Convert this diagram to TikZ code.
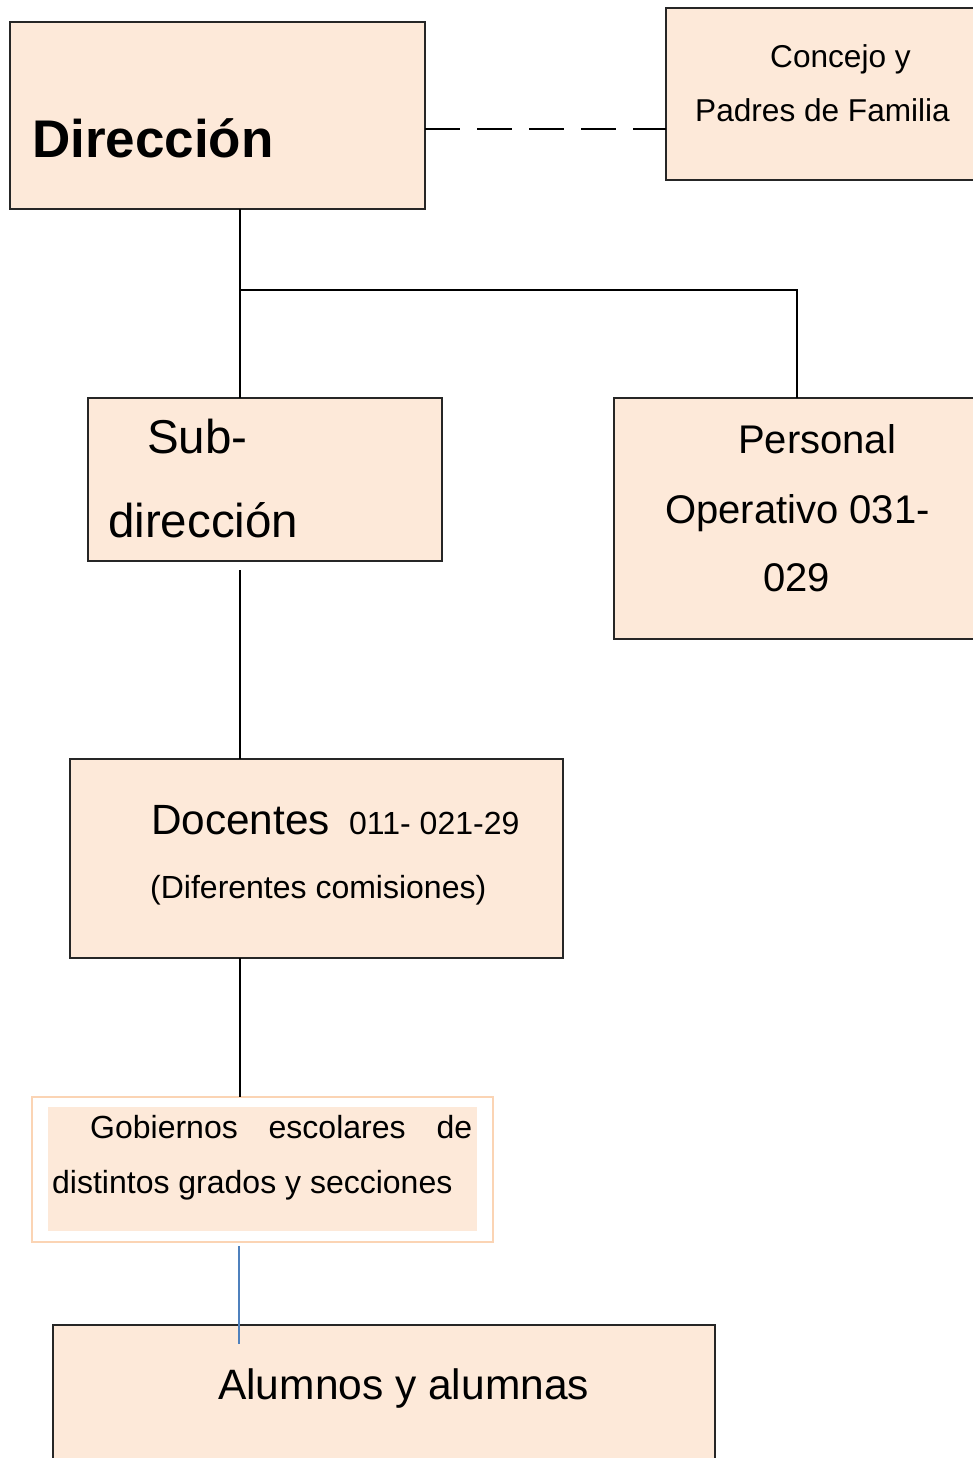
\documentclass[tikz,border=0pt]{standalone}
\usepackage{fontspec}
\setmainfont{Liberation Sans}

\definecolor{boxfill}{HTML}{FDE9D9}
\definecolor{gobline}{HTML}{FBD4B4}
\definecolor{linkblue}{HTML}{4F81BD}

\tikzset{
  orgbox/.style={draw=black!85, fill=boxfill, line width=1.3pt, inner sep=0pt, outer sep=0pt, anchor=north west},
  lbl/.style={inner sep=0pt, anchor=base west},
  link/.style={line width=1.4pt, black},
}

\begin{document}
\begin{tikzpicture}[x=1pt, y=-1pt]
    \useasboundingbox (0,0) rectangle (973,1458);
    \node[orgbox, minimum width=415pt, minimum height=187pt] (dir) at (10,22) {};
    \node[lbl, font=\fontsize{53}{60}\selectfont\bfseries] (dirt) at (32,158) {Dirección};
    \node[orgbox, minimum width=319pt, minimum height=172pt] (con) at (666,8) {};
    \node[lbl, font=\fontsize{31.6}{40}\selectfont] (cont1) at (770,68) {Concejo y};
    \node[lbl, font=\fontsize{31.6}{40}\selectfont] (cont2) at (695,122) {Padres de Familia};
    \node[orgbox, minimum width=354pt, minimum height=163pt] (sub) at (88,398) {};
    \node[lbl, font=\fontsize{47.5}{54}\selectfont] (subt1) at (147,453) {Sub-};
    \node[lbl, font=\fontsize{47.5}{54}\selectfont] (subt2) at (108,537) {dirección};
    \node[orgbox, minimum width=366pt, minimum height=241pt] (per) at (614,398) {};
    \node[lbl, font=\fontsize{40}{48}\selectfont] (pert1) at (738,453) {Personal};
    \node[lbl, font=\fontsize{40}{48}\selectfont] (pert2) at (665,523) {Operativo 031-};
    \node[lbl, font=\fontsize{40}{48}\selectfont] (pert3) at (763,591) {029};
    \node[orgbox, minimum width=493pt, minimum height=199pt] (doc) at (70,759) {};
    \node[lbl, font=\fontsize{42.3}{50}\selectfont] (doct1) at (151,834) {Docentes};
    \node[lbl, font=\fontsize{32}{38}\selectfont] (doct2) at (349,834) {011- 021-29};
    \node[lbl, font=\fontsize{32}{38}\selectfont] (doct3) at (150,898) {(Diferentes comisiones)};
    \node[orgbox, draw=gobline, fill=white, minimum width=461pt, minimum height=145pt] (gob) at (32,1097) {};
    \node[orgbox, draw=none, minimum width=429pt, minimum height=124pt] (gobfill) at (48,1107) {};
    \node[lbl, font=\fontsize{32}{38}\selectfont] (gobt1) at (90,1138) {\makebox[382pt][s]{Gobiernos\hfill escolares\hfill de}};
    \node[lbl, font=\fontsize{32}{38}\selectfont] (gobt2) at (52,1193) {distintos grados y secciones};
    \node[orgbox, minimum width=662pt, minimum height=145pt] (alu) at (53,1325) {};
    \node[lbl, font=\fontsize{42.5}{50}\selectfont] (alut) at (218,1399) {Alumnos y alumnas};
    \coordinate (jA) at (240,290);
    \coordinate (jB) at (239,1300);
    \draw[link, dash pattern=on 35pt off 17pt] ([yshift=-13.5pt]dir.east) -- ([yshift=-13.5pt]dir.east -| con.west);
    \draw[link] (dir.south -| jA) -- (sub.north -| jA);
    \draw[link] (jA) -| (per.north);
    \draw[link] ([yshift=-9pt]sub.south -| jA) -- (doc.north -| jA);
    \draw[link] (doc.south -| jA) -- (gob.north -| jA);
    \draw[line width=1.2pt, linkblue] ([yshift=-4pt]gob.south -| jB) -- ([yshift=-19pt]alu.north -| jB);
\end{tikzpicture}
\end{document}
